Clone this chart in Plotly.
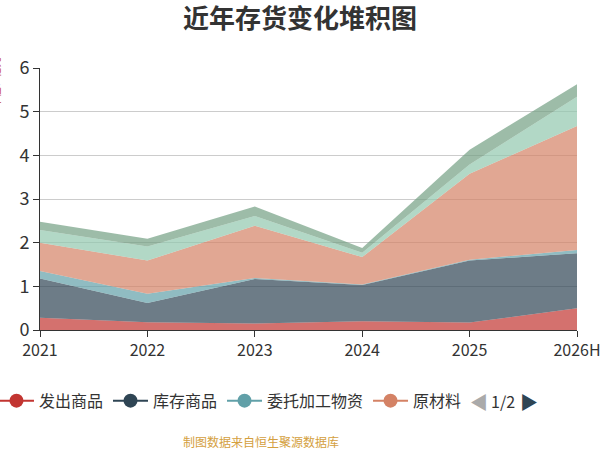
import plotly.graph_objects as go

years = ["2021", "2022", "2023", "2024", "2025", "2026H"]
series_names = ["发出商品", "库存商品", "委托加工物资", "原材料", "在产品", "周转材料"]
fachu = [0.28, 0.18, 0.15, 0.20, 0.17, 0.50]
kucun = [0.90, 0.44, 1.02, 0.83, 1.42, 1.26]
weituo = [0.17, 0.21, 0.02, 0.01, 0.02, 0.07]
yuancailiao = [0.65, 0.76, 1.20, 0.63, 1.97, 2.84]
zaichanpin = [0.29, 0.32, 0.22, 0.10, 0.21, 0.67]
zhouzhuan = [0.19, 0.18, 0.22, 0.11, 0.34, 0.29]
values = [fachu, kucun, weituo, yuancailiao, zaichanpin, zhouzhuan]
colors = ["#c23531", "#2f4554", "#61a0a8", "#d48265", "#91c7ae", "#749f83"]
legend_count = 4

def rgba(h, a):
    h = h.lstrip("#")
    return "rgba(%d,%d,%d,%s)" % (int(h[0:2], 16), int(h[2:4], 16), int(h[4:6], 16), a)

fig = go.Figure()
for name, vals, c in zip(series_names, values, colors):
    fig.add_trace(go.Scatter(
        x=years, y=vals, name=name, stackgroup="one", mode="none",
        fillcolor=rgba(c, 0.7), showlegend=False, hoverinfo="x+y+name"))

for name, c in list(zip(series_names, colors))[:legend_count]:
    fig.add_trace(go.Scatter(
        x=[None], y=[None], name=name, mode="lines+markers",
        line=dict(color=c, width=2), marker=dict(color=c, size=14),
        showlegend=True))

fig.update_layout(
    width=600, height=450,
    margin=dict(l=40, r=23, t=68, b=120, autoexpand=False),
    paper_bgcolor="white", plot_bgcolor="white",
    font=dict(family="Noto Sans CJK SC", color="#333"),
    title=dict(text="<b>近年存货变化堆积图</b>", x=0.5, xanchor="center",
               y=0.958, yanchor="middle", font=dict(size=26, color="#333")),
    xaxis=dict(type="category", range=[0, 5], showgrid=False, automargin=False,
               showline=True, linecolor="#333", linewidth=1,
               ticks="outside", ticklen=6, tickcolor="#333",
               tickfont=dict(size=16, color="#333")),
    yaxis=dict(range=[0, 6], dtick=1, showgrid=True, gridcolor="#cccccc",
               automargin=False,
               showline=True, linecolor="#333", linewidth=1,
               ticks="outside", ticklen=6, tickcolor="#333",
               tickfont=dict(size=18, color="#333"), zeroline=False),
    legend=dict(orientation="h", x=-0.0857, xanchor="left", y=-0.27,
                yanchor="middle", font=dict(size=16, color="#333"),
                itemwidth=35, tracegroupgap=0, traceorder="normal"),
    showlegend=True,
)

fig.add_annotation(xref="paper", yref="paper", x=-0.083, y=0.947, yanchor="middle",
                   text="单位：亿元", textangle=-90, showarrow=False,
                   font=dict(size=10, color="#c23531"), xanchor="center")
fig.add_annotation(xref="paper", yref="paper", x=0.838, y=-0.27, yanchor="middle",
                   text="◀", showarrow=False, font=dict(size=18, color="#aaaaaa"))
fig.add_annotation(xref="paper", yref="paper", x=0.888, y=-0.27, yanchor="middle",
                   text="1/2", showarrow=False, font=dict(size=16, color="#333"))
fig.add_annotation(xref="paper", yref="paper", x=0.932, y=-0.27, yanchor="middle",
                   text="▶", showarrow=False, font=dict(size=18, color="#2f4554"))
fig.add_annotation(xref="paper", yref="paper", x=0.4115, y=-0.424, yanchor="middle",
                   text="制图数据来自恒生聚源数据库", showarrow=False,
                   font=dict(size=12, color="#d4a040"))

fig.write_html("out.html", config={"displayModeBar": False},
               post_script="document.body.style.margin='0';document.body.style.overflow='hidden';")
